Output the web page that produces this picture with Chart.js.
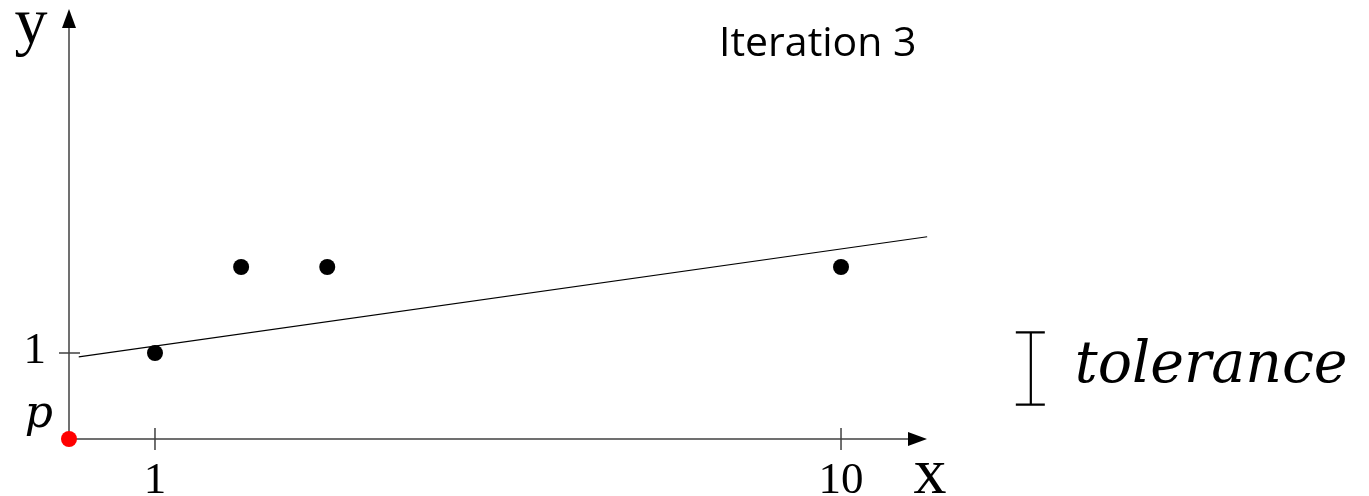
<!DOCTYPE html>
<html>
<head>
<meta charset="utf-8">
<script src="https://cdn.jsdelivr.net/npm/chart.js@4/dist/chart.umd.min.js"></script>
<style>
html,body{margin:0;padding:0;background:#fff;}
canvas{display:block;}
</style>
</head>
<body>
<canvas id="c" width="1369" height="496"></canvas>
<script>
// ---- data ----
const xTicks = [1, 10];
const xTickLabels = ['1', '10'];
const yTicks = [1];
const yTickLabels = ['1'];
const samplePoints = [{x: 1, y: 1}, {x: 2.13, y: 2}, {x: 3.26, y: 2}, {x: 10, y: 2}];
const fitLine = [{x: 0, y: 0.955}, {x: 11.13, y: 2.352}];
const pPoint = [{x: -0.128, y: 0}];
const xRange = [-0.128, 11.128];
const yRange = [0, 5.0];
const toleranceBand = [0.4, 1.24];
const toleranceX = 12.49;
const titleText = 'Iteration 3';

const axesPlugin = {
  id: 'axesPlugin',
  beforeDatasetsDraw(chart) {
    const ctx = chart.ctx;
    const xs = chart.scales.x, ys = chart.scales.y;
    const ox = xs.getPixelForValue(xRange[0]);
    const oy = ys.getPixelForValue(0);
    const xEnd = xs.getPixelForValue(xRange[1]);
    const yEnd = ys.getPixelForValue(yRange[1]);
    ctx.save();
    ctx.strokeStyle = '#404040';
    ctx.fillStyle = '#000';
    ctx.lineWidth = 1.5;
    // x axis
    ctx.beginPath(); ctx.moveTo(ox, oy); ctx.lineTo(xEnd - 18, oy); ctx.stroke();
    ctx.beginPath(); ctx.moveTo(xEnd, oy); ctx.lineTo(xEnd - 19, oy - 7); ctx.lineTo(xEnd - 19, oy + 7); ctx.closePath(); ctx.fill();
    // y axis
    ctx.beginPath(); ctx.moveTo(ox, oy); ctx.lineTo(ox, yEnd + 18); ctx.stroke();
    ctx.beginPath(); ctx.moveTo(ox, yEnd); ctx.lineTo(ox - 7, yEnd + 19); ctx.lineTo(ox + 7, yEnd + 19); ctx.closePath(); ctx.fill();
    // ticks
    ctx.font = '45px "Liberation Serif"';
    ctx.textAlign = 'center'; ctx.textBaseline = 'alphabetic';
    xTicks.forEach((v, i) => {
      const px = xs.getPixelForValue(v);
      ctx.beginPath(); ctx.moveTo(px, oy - 11); ctx.lineTo(px, oy + 11); ctx.stroke();
      ctx.fillText(xTickLabels[i], px, oy + 54);
    });
    ctx.textAlign = 'right';
    yTicks.forEach((v, i) => {
      const py = ys.getPixelForValue(v);
      ctx.beginPath(); ctx.moveTo(ox - 10, py); ctx.lineTo(ox + 11, py); ctx.stroke();
      ctx.fillText(yTickLabels[i], ox - 23, py + 10);
    });
    // axis names
    ctx.font = '66px "Liberation Serif"';
    ctx.textAlign = 'center';
    ctx.fillText('y', ox - 38, 43);
    ctx.fillText('x', xEnd + 3, oy + 54);
    // p label
    ctx.font = 'italic 44px "DejaVu Serif"';
    ctx.textAlign = 'right';
    ctx.fillText('p', ox - 16, oy - 12);
    // title
    ctx.font = '41px "Open Sans"';
    ctx.textAlign = 'left';
    ctx.fillText(titleText, 719, 56);
    // tolerance bracket
    const tx = xs.getPixelForValue(toleranceX);
    const t0 = ys.getPixelForValue(toleranceBand[0]);
    const t1 = ys.getPixelForValue(toleranceBand[1]);
    ctx.strokeStyle = '#000';
    ctx.lineWidth = 2.2;
    ctx.beginPath();
    ctx.moveTo(tx, t0); ctx.lineTo(tx, t1);
    ctx.moveTo(tx - 15, t0); ctx.lineTo(tx + 14, t0);
    ctx.moveTo(tx - 15, t1); ctx.lineTo(tx + 14, t1);
    ctx.stroke();
    ctx.font = 'italic 57px "DejaVu Serif"';
    ctx.textAlign = 'left';
    ctx.fillText('tolerance', tx + 44, (t0 + t1) / 2 + 14);
    ctx.restore();
  }
};

new Chart(document.getElementById('c'), {
  type: 'scatter',
  data: {
    datasets: [
      {data: fitLine, showLine: true, borderColor: '#000', borderWidth: 1.2, pointRadius: 0, clip: false},
      {data: samplePoints, backgroundColor: '#000', borderColor: '#000', pointRadius: 8, borderWidth: 0, clip: false},
      {data: pPoint, backgroundColor: '#ff0000', borderColor: '#ff0000', pointRadius: 8, borderWidth: 0, clip: false}
    ]
  },
  options: {
    responsive: false,
    animation: false,
    layout: {padding: {left: 69, right: 442, top: 9, bottom: 57}},
    plugins: {legend: {display: false}, tooltip: {enabled: false}},
    scales: {
      x: {type: 'linear', min: xRange[0], max: xRange[1], display: false},
      y: {type: 'linear', min: yRange[0], max: yRange[1], display: false}
    }
  },
  plugins: [axesPlugin]
});
</script>
</body>
</html>
